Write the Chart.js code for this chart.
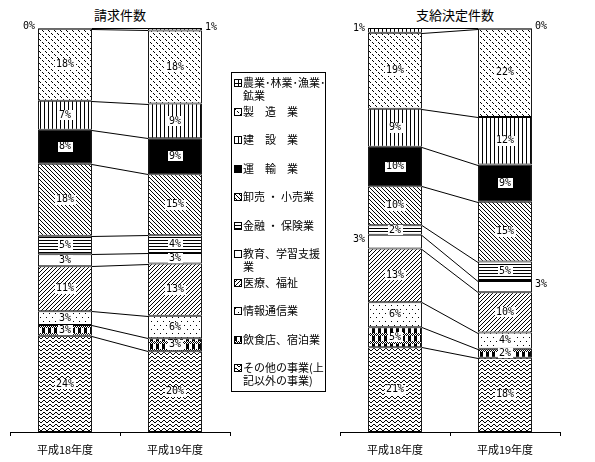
<!DOCTYPE html>
<html>
<head>
<meta charset="utf-8">
<script src="https://cdn.jsdelivr.net/npm/chart.js@4"></script>
<style>
  body { margin: 0; background: #fff; }
  #wrap { position: relative; width: 595px; height: 462px; font-family: "Noto Sans CJK JP", sans-serif; color: #000; }
  .title { position: absolute; top: 5px; font-size: 13px; font-weight: normal; text-align: center; }
  canvas { position: absolute; top: 0; }
  #legend { position: absolute; left: 231px; top: 72px; width: 95px; height: 320px; border: 1px solid #000; box-sizing: border-box; padding-top: 3px; }
  .item { position: relative; height: 28.5px; padding-left: 11px; font-size: 11px; line-height: 13px; white-space: pre; }
  .item canvas { position: absolute; left: 2px; top: 3px; }
</style>
</head>
<body>
<div id="wrap">
  <div class="title" style="left:0; width:240px">請求件数</div>
  <div class="title" style="left:330px; width:250px">支給決定件数</div>
  <canvas id="claims" width="240" height="462" style="left:0"></canvas>
  <canvas id="awards" width="265" height="462" style="left:330px"></canvas>
  <div id="legend"></div>
</div>
<script>
const years = ['平成18年度', '平成19年度'];
const industries = ['農業・林業・漁業・鉱業', '製造業', '建設業', '運輸業', '卸売・小売業', '金融・保険業',
  '教育、学習支援業', '医療、福祉', '情報通信業', '飲食店、宿泊業', 'その他の事業(上記以外の事業)'];
const legendLabels = ['農業･林業･漁業･\n鉱業', '製　造　業', '建　設　業', '運　輸　業', '卸売 ・ 小売業', '金融 ・ 保険業',
  '教育、学習支援\n業', '医療、福祉', '情報通信業', '飲食店、宿泊業', 'その他の事業(上\n記以外の事業)'];

// 請求件数 (%)
const claimsH18 = [0.2, 17.8, 7.2, 8.4, 17.8, 4.6, 3.0, 11.1, 3.4, 2.7, 23.8];
const claimsH19 = [0.6, 18.1, 8.6, 8.9, 15.1, 4.4, 2.6, 12.9, 5.6, 3.2, 20.0];
// 支給決定件数 (%)
const awardsH18 = [1.2, 18.8, 9.4, 9.8, 9.6, 2.4, 3.4, 13.3, 6.2, 4.9, 21.0];
const awardsH19 = [0.2, 21.8, 11.8, 9.2, 14.8, 4.8, 2.8, 10.0, 4.0, 2.2, 18.4];

function tile(w, h, draw) {
  const c = document.createElement('canvas');
  c.width = w; c.height = h;
  const g = c.getContext('2d');
  g.fillStyle = '#fff'; g.fillRect(0, 0, w, h);
  g.fillStyle = '#000';
  draw(g);
  return g.createPattern(c, 'repeat');
}
const px = (g, pts) => pts.forEach(p => g.fillRect(p[0], p[1], 1, 1));

const fills = [
  tile(4, 4, g => { g.fillRect(0, 0, 4, 1); g.fillRect(0, 0, 1, 4); }),
  tile(6, 6, g => px(g, [[0, 0], [1, 1], [3, 3], [4, 4]])),
  tile(4, 1, g => g.fillRect(0, 0, 1, 1)),
  '#000',
  tile(4, 4, g => px(g, [[0, 0], [1, 1], [2, 2], [3, 3]])),
  tile(1, 3, g => g.fillRect(0, 0, 1, 1)),
  '#fff',
  tile(4, 4, g => px(g, [[3, 0], [2, 1], [1, 2], [0, 3]])),
  tile(6, 8, g => px(g, [[1, 1], [4, 5]])),
  tile(6, 8, g => {
    g.fillRect(0, 0, 3, 5);
    for (let y = 5; y < 8; y++) for (let x = 0; x < 6; x++) if ((x + y) % 2) g.fillRect(x, y, 1, 1);
  }),
  tile(6, 4, g => px(g, [[0, 1], [1, 0], [2, 0], [3, 1], [4, 2], [5, 2]]))
];

// connector lines between the two bars and the % labels
const segLabels = {
  id: 'segLabels',
  afterDatasetsDraw(chart, args, opts) {
    const ctx = chart.ctx;
    ctx.save();
    ctx.strokeStyle = '#000';
    ctx.lineWidth = 1;
    chart.data.datasets.forEach((ds, i) => {
      const bars = chart.getDatasetMeta(i).data;
      const a = bars[0], b = bars[1];
      ctx.beginPath();
      ctx.moveTo(a.x + a.width / 2, Math.round(a.y) + 0.5);
      ctx.lineTo(b.x - b.width / 2, Math.round(b.y) + 0.5);
      ctx.stroke();
    });
    ctx.font = '10px "DejaVu Sans Mono"';
    ctx.textBaseline = 'middle';
    chart.data.datasets.forEach((ds, i) => {
      const bars = chart.getDatasetMeta(i).data;
      bars.forEach((bar, j) => {
        const text = Math.round(ds.data[j]) + '%';
        const w = ctx.measureText(text).width;
        const cy = (bar.y + bar.base) / 2;
        if (opts.outside.includes(ds.label)) {
          ctx.fillStyle = '#000';
          if (j === 0) {
            ctx.textAlign = 'right';
            ctx.fillText(text, bar.x - bar.width / 2 - 3, cy - 2);
          } else {
            ctx.textAlign = 'left';
            ctx.fillText(text, bar.x + bar.width / 2 + 3, cy - 2);
          }
        } else {
          ctx.fillStyle = '#fff';
          ctx.fillRect(Math.round(bar.x - w / 2 - 1), Math.round(cy - 5), Math.ceil(w + 2), 10);
          ctx.fillStyle = '#000';
          ctx.textAlign = 'center';
          ctx.fillText(text, bar.x, cy);
        }
      });
    });
    ctx.restore();
  }
};

function makeChart(id, h18, h19, outside, padRight) {
  const datasets = industries.map((name, i) => ({
    label: name,
    data: [h18[i], h19[i]],
    backgroundColor: fills[i],
    borderColor: '#000',
    borderWidth: 1,
    borderSkipped: false,
    barPercentage: 0.49,
    categoryPercentage: 1.0
  })).reverse();

  return new Chart(document.getElementById(id), {
    type: 'bar',
    data: { labels: years, datasets: datasets },
    plugins: [segLabels],
    options: {
      responsive: false,
      animation: false,
      devicePixelRatio: 1,
      layout: { padding: { left: 10, right: padRight, top: 28, bottom: 0 } },
      scales: {
        x: {
          stacked: true,
          afterFit: s => { s.height = 30; },
          grid: { offset: true, drawOnChartArea: false, tickLength: 4, color: '#000' },
          border: { color: '#000' },
          ticks: { color: '#000', padding: 7, font: { family: '"Noto Sans CJK JP"', size: 11 } }
        },
        y: { stacked: true, min: 0, max: 100, display: false }
      },
      plugins: {
        legend: { display: false },
        tooltip: { enabled: false },
        segLabels: { outside: outside }
      }
    }
  });
}

makeChart('claims', claimsH18, claimsH19, [industries[0]], 10);
makeChart('awards', awardsH18, awardsH19, [industries[0], industries[6]], 35);

// legend
const legend = document.getElementById('legend');
legendLabels.forEach((text, i) => {
  const item = document.createElement('div');
  item.className = 'item';
  const sw = document.createElement('canvas');
  sw.width = 8; sw.height = 8;
  const g = sw.getContext('2d');
  g.fillStyle = fills[i];
  g.fillRect(0, 0, 8, 8);
  g.strokeStyle = '#000';
  g.strokeRect(0.5, 0.5, 7, 7);
  item.appendChild(sw);
  item.appendChild(document.createTextNode(text));
  legend.appendChild(item);
});
</script>
</body>
</html>
